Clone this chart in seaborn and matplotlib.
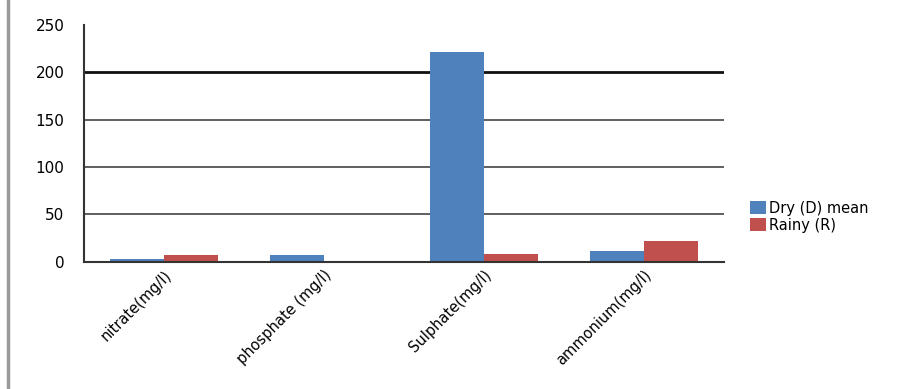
import matplotlib
matplotlib.use('Agg')
import matplotlib.pyplot as plt
import pandas as pd
import seaborn as sns

# Dados
categories = ['nitrate(mg/l)', 'phosphate (mg/l)', 'Sulphate(mg/l)', 'ammonium(mg/l)']
dry_mean = [3, 7, 221, 11.5]
rainy = [7.5, 0.5, 8.5, 22]
series_names = ['Dry (D) mean', 'Rainy (R)']
y_ticks = [0, 50, 100, 150, 200, 250]

df = pd.DataFrame({
    'param': categories * 2,
    'value': dry_mean + rainy,
    'season': [series_names[0]] * 4 + [series_names[1]] * 4,
})

sns.set_style('white')
plt.rcParams['font.family'] = ['DejaVu Sans']
plt.rcParams['text.color'] = 'black'
plt.rcParams['xtick.color'] = 'black'
plt.rcParams['ytick.color'] = 'black'

fig = plt.figure(figsize=(9.19, 3.89), dpi=100)
ax = fig.add_axes([0.0914, 0.3265, 0.6964, 0.6105])

sns.barplot(data=df, x='param', y='value', hue='season',
            palette=['#4F81BD', '#C0504D'], width=0.67, ax=ax,
            saturation=1, edgecolor='none')

# Grade horizontal (sem linha no topo)
for t in y_ticks[1:-1]:
    lw = 2.0 if t == 200 else 1.2
    ax.axhline(t, color='#111111' if t == 200 else '#444444', lw=lw, zorder=0)

ax.set_ylim(0, 250)
ax.set_yticks(y_ticks)
ax.set_xlim(-0.5, 3.5)
ax.set_xlabel('')
ax.set_ylabel('')
ax.tick_params(axis='y', length=0, pad=14, labelsize=11)
ax.tick_params(axis='x', length=0, pad=4, labelsize=10.5)
plt.setp(ax.get_xticklabels(), rotation=45, ha='right', rotation_mode='anchor')

for s in ['top', 'right']:
    ax.spines[s].set_visible(False)
for s in ['left', 'bottom']:
    ax.spines[s].set_color('#333333')
    ax.spines[s].set_linewidth(1.5)

leg = ax.legend(loc='center left', bbox_to_anchor=(1.02, 0.19), frameon=False,
                fontsize=10.5, handlelength=1.1, handleheight=1.0,
                handletextpad=0.2, labelspacing=0.15)

# Linha cinza da borda da página
fig.add_artist(plt.Line2D([0.009, 0.009], [0.0, 1.0], color='#999999', lw=2.5))

fig.savefig('out.png', dpi=100)
